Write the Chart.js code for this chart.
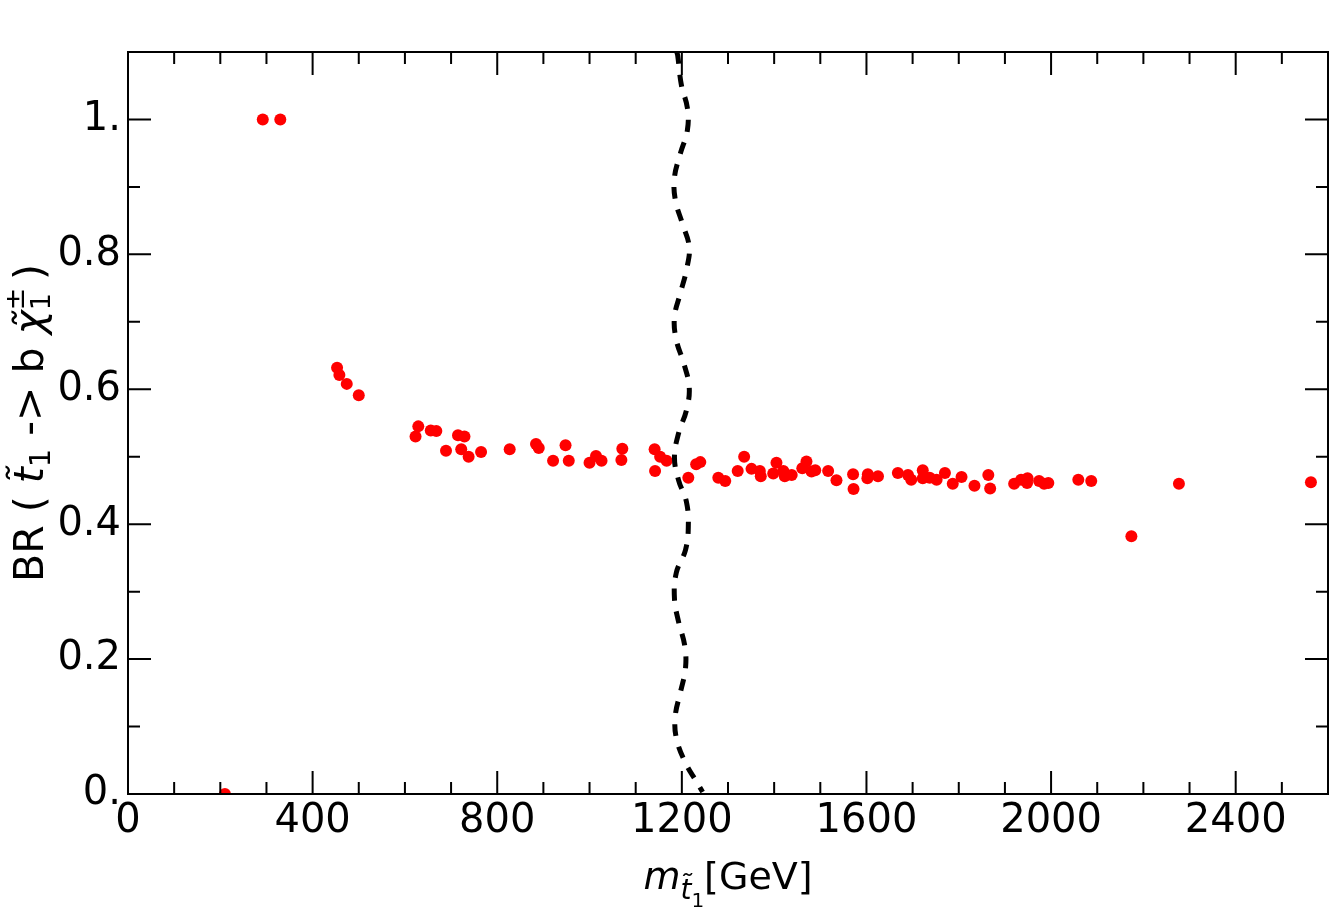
<!DOCTYPE html>
<html>
<head>
<meta charset="utf-8">
<script src="https://cdn.jsdelivr.net/npm/chart.js@4.4.1/dist/chart.umd.min.js"></script>
<style>
    html, body { margin: 0; padding: 0; background: #fff; }
    #wrap { width: 1334px; height: 917px; }
</style>
</head>
<body>
<div id="wrap"><canvas id="brChart"></canvas></div>
<script>
// stop mass (GeV) and branching ratio of each scan point
const stopMass = [210, 292, 330, 453, 458, 474, 500, 623, 629, 656, 668, 689, 715, 722, 729, 738, 765,
    827, 884, 890, 921, 948, 955, 1000, 1014, 1026, 1069, 1071, 1141, 1142, 1153, 1167, 1214, 1231,
    1240, 1279, 1294, 1321, 1335, 1351, 1369, 1371, 1398, 1405, 1420, 1423, 1438, 1461, 1470, 1481,
    1489, 1517, 1535, 1571, 1572, 1602, 1603, 1625, 1668, 1690, 1697, 1722, 1722, 1737, 1752, 1770,
    1787, 1806, 1834, 1864, 1868, 1920, 1935, 1948, 1949, 1974, 1985, 1994, 2059, 2087, 2174, 2277, 2563];
const branching = [0.0, 1.0, 1.0, 0.632, 0.621, 0.608, 0.591, 0.530, 0.545, 0.539, 0.538, 0.509, 0.532,
    0.511, 0.530, 0.500, 0.507, 0.511, 0.519, 0.513, 0.494, 0.517, 0.494, 0.491, 0.501, 0.494, 0.495,
    0.512, 0.511, 0.479, 0.500, 0.494, 0.469, 0.489, 0.492, 0.469, 0.464, 0.479, 0.500, 0.482, 0.479,
    0.471, 0.475, 0.491, 0.479, 0.471, 0.473, 0.483, 0.493, 0.478, 0.480, 0.479, 0.465, 0.474, 0.452,
    0.468, 0.474, 0.471, 0.476, 0.473, 0.466, 0.480, 0.468, 0.469, 0.466, 0.476, 0.460, 0.470, 0.457,
    0.473, 0.453, 0.460, 0.466, 0.461, 0.468, 0.464, 0.460, 0.461, 0.466, 0.464, 0.382, 0.460, 0.462];

// dashed exclusion curve, read top to bottom
const limitMass = [1189, 1191, 1199, 1212, 1212, 1197, 1184, 1186, 1201, 1216, 1210, 1197, 1184, 1188,
    1204, 1216, 1210, 1193, 1184, 1193, 1210, 1214, 1208, 1188, 1184, 1193, 1206, 1208, 1197, 1186,
    1188, 1208, 1232, 1245];
const limitBR = [1.1, 1.095, 1.051, 1.017, 0.984, 0.950, 0.914, 0.880, 0.846, 0.811, 0.777, 0.743, 0.707,
    0.673, 0.639, 0.603, 0.569, 0.535, 0.499, 0.465, 0.433, 0.396, 0.362, 0.328, 0.290, 0.255, 0.221,
    0.187, 0.151, 0.117, 0.083, 0.046, 0.018, 0.003];

const xLabelEvery = 400;
const yLabelEvery = 0.2;

const pointData = stopMass.map((m, i) => ({ x: m, y: branching[i] }));
const limitData = limitMass.map((m, i) => ({ x: m, y: limitBR[i] }));

const FONT = '"DejaVu Sans", sans-serif';

function fontOf(p) {
    return (p.italic ? 'italic ' : '') + p.size + 'px ' + FONT;
}

// draws a line of mixed text (sub/superscripts) centred on cx
function drawRich(ctx, parts, cx, baseY) {
    let total = 0;
    parts.forEach(p => {
        ctx.font = fontOf(p);
        p.w = ctx.measureText(p.t).width;
        if (!p.noAdv) total += p.w;
    });
    let x = cx - total / 2;
    parts.forEach(p => {
        ctx.font = fontOf(p);
        ctx.fillText(p.t, x, baseY + (p.dy || 0));
        if (!p.noAdv) x += p.w;
    });
}

const framePlugin = {
    id: 'frame',
    afterDraw(chart) {
        const { ctx, chartArea: a, scales } = chart;
        ctx.save();
        ctx.strokeStyle = '#000';
        ctx.lineWidth = 2;
        ctx.strokeRect(a.left, a.top, a.right - a.left, a.bottom - a.top);

        // inward ticks on all four sides
        ctx.beginPath();
        scales.x.ticks.forEach(t => {
            const px = scales.x.getPixelForValue(t.value);
            const len = Math.round(t.value) % xLabelEvery === 0 ? 23 : 12;
            ctx.moveTo(px, a.bottom); ctx.lineTo(px, a.bottom - len);
            ctx.moveTo(px, a.top); ctx.lineTo(px, a.top + len);
        });
        scales.y.ticks.forEach(t => {
            const py = scales.y.getPixelForValue(t.value);
            const len = Math.round(t.value * 10) % 2 === 0 ? 23 : 12;
            ctx.moveTo(a.left, py); ctx.lineTo(a.left + len, py);
            ctx.moveTo(a.right, py); ctx.lineTo(a.right - len, py);
        });
        ctx.stroke();

        // axis titles
        ctx.fillStyle = '#000';
        ctx.textBaseline = 'alphabetic';
        drawRich(ctx, [
            { t: 'm', size: 38, italic: true },
            { t: 't\u0303', size: 28, italic: true, dy: 10 },
            { t: '1', size: 20, dy: 18 },
            { t: '[GeV]', size: 38 }
        ], (a.left + a.right) / 2, 889);

        ctx.translate(43, (a.top + a.bottom) / 2);
        ctx.rotate(-Math.PI / 2);
        drawRich(ctx, [
            { t: 'BR ( ', size: 41 },
            { t: 't\u0303', size: 41, italic: true },
            { t: '1', size: 29, dy: 7 },
            { t: ' -> b ', size: 41 },
            { t: '\u03c7\u0303', size: 41, italic: true },
            { t: '\u00b1', size: 27, dy: -19, noAdv: true },
            { t: '1', size: 27, dy: 7 },
            { t: ' )', size: 41 }
        ], 0, 0);
        ctx.restore();
    }
};

new Chart(document.getElementById('brChart'), {
    type: 'scatter',
    data: {
        datasets: [
            {
                label: 'limit',
                data: limitData,
                showLine: true,
                borderColor: '#000',
                borderWidth: 5,
                borderDash: [12, 11],
                tension: 0.4,
                pointRadius: 0,
                fill: false,
                order: 0
            },
            {
                label: 'points',
                data: pointData,
                backgroundColor: '#ff0000',
                borderColor: '#ff0000',
                borderWidth: 0,
                pointRadius: 6,
                order: 1
            }
        ]
    },
    options: {
        responsive: true,
        maintainAspectRatio: false,
        animation: false,
        events: [],
        layout: { padding: { top: 52, right: 5, left: 0, bottom: 0 } },
        plugins: { legend: { display: false }, tooltip: { enabled: false } },
        scales: {
            x: {
                type: 'linear',
                min: 0,
                max: 2600,
                afterFit: s => { s.height = 123; },
                grid: { display: false, drawTicks: false },
                border: { display: false },
                ticks: {
                    stepSize: 100,
                    autoSkip: false,
                    maxRotation: 0,
                    padding: 4,
                    color: '#000',
                    font: { family: FONT, size: 40 },
                    callback: v => Math.round(v) % xLabelEvery === 0 ? String(Math.round(v)) : ''
                }
            },
            y: {
                type: 'linear',
                min: 0,
                max: 1.1,
                afterFit: s => { s.width = 128; },
                grid: { display: false, drawTicks: false },
                border: { display: false },
                ticks: {
                    stepSize: 0.1,
                    autoSkip: false,
                    padding: 7,
                    color: '#000',
                    font: { family: FONT, size: 40 },
                    callback: v => {
                        const k = Math.round(v * 10);
                        if (k % Math.round(yLabelEvery * 10) !== 0) return '';
                        if (k === 0) return '0.';
                        if (k === 10) return '1.';
                        return (k / 10).toFixed(1);
                    }
                }
            }
        }
    },
    plugins: [framePlugin]
});
</script>
</body>
</html>
